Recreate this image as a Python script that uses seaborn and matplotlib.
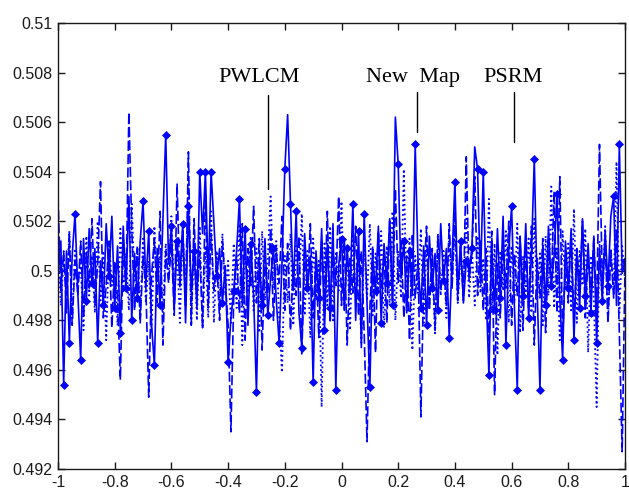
import numpy as np
import matplotlib
matplotlib.use("Agg")
import matplotlib.pyplot as plt
import seaborn as sns

# sample positions
x = np.linspace(-1, 1, 201)

# solid line with diamond markers (every other point marked)
solid = [
    0.5004, 0.5012, 0.4954, 0.5008, 0.4971, 0.5006, 0.5023, 0.4991, 0.4964, 0.5013,
    0.4988, 0.5017, 0.4995, 0.5009, 0.4971, 0.5004, 0.4986, 0.5019, 0.4998, 0.5022,
    0.4985, 0.5010, 0.4975, 0.5018, 0.4993, 0.5030, 0.4980, 0.5007, 0.4989, 0.5012,
    0.5028, 0.4994, 0.5016, 0.4978, 0.4962, 0.5009, 0.4986, 0.5020, 0.5055, 0.5003,
    0.5018, 0.4985, 0.5012, 0.4998, 0.5019, 0.4979, 0.5026, 0.4992, 0.5008, 0.4985,
    0.5040, 0.5015, 0.5040, 0.4996, 0.5040, 0.5019, 0.4998, 0.5009, 0.4987, 0.5002,
    0.4963, 0.4981, 0.4992, 0.5008, 0.5029, 0.4986, 0.5017, 0.4978, 0.5011, 0.4990,
    0.4951, 0.5004, 0.4986, 0.5013, 0.4982, 0.4997, 0.5009, 0.4988, 0.4971, 0.5003,
    0.5041, 0.5063, 0.5027, 0.4992, 0.5024, 0.4983, 0.4969, 0.5015, 0.4993, 0.5006,
    0.4955, 0.5008, 0.4989, 0.5017, 0.4976, 0.5011, 0.4985, 0.5019, 0.4952, 0.5002,
    0.5013, 0.4984, 0.5009, 0.4991, 0.5027, 0.4980, 0.5016, 0.4969, 0.5023, 0.4987,
    0.4953, 0.5006, 0.4992, 0.5018, 0.4979, 0.5011, 0.4995, 0.5021, 0.4986, 0.5062,
    0.5043, 0.4997, 0.5012, 0.4983, 0.5008, 0.4990, 0.5051, 0.5003, 0.4985, 0.5010,
    0.4978, 0.5014, 0.4993, 0.5007, 0.4984, 0.5019, 0.4996, 0.5009, 0.4973, 0.5005,
    0.5036, 0.4991, 0.5012, 0.4987, 0.5004, 0.5000, 0.5009, 0.5050, 0.5041, 0.4995,
    0.5040, 0.4992, 0.4958, 0.5011, 0.4984, 0.5017, 0.4989, 0.5022, 0.4970, 0.5008,
    0.5026, 0.4985, 0.4952, 0.5013, 0.4990, 0.5019, 0.4981, 0.5007, 0.5045, 0.4993,
    0.4952, 0.5010, 0.4986, 0.5018, 0.4994, 0.5006, 0.5031, 0.4989, 0.4964, 0.5012,
    0.4993, 0.5017, 0.4972, 0.5008, 0.4985, 0.5021, 0.4990, 0.5011, 0.4983, 0.5014,
    0.4971, 0.5009, 0.4988, 0.5016, 0.4994, 0.5022, 0.5030, 0.4986, 0.5051, 0.4999,
    0.5004,
]

# dashed line
dashed = [
    0.5030, 0.4992, 0.5008, 0.4983, 0.5015, 0.4978, 0.5004, 0.4990, 0.5012, 0.4981,
    0.5007, 0.4993, 0.5021, 0.4986, 0.5003, 0.5036, 0.4981, 0.4994, 0.5012, 0.4977,
    0.5004, 0.4989, 0.4956, 0.5011, 0.4992, 0.5064, 0.5018, 0.4984, 0.5009, 0.4979,
    0.5006, 0.4993, 0.4949, 0.4998, 0.5013, 0.4987, 0.5024, 0.4970, 0.5008, 0.4995,
    0.5011, 0.4982, 0.5035, 0.4993, 0.5016, 0.4986, 0.5048, 0.4978, 0.5021, 0.4990,
    0.5008, 0.4977, 0.5031, 0.4985, 0.5015, 0.4992, 0.5004, 0.4980, 0.5012, 0.4996,
    0.4978, 0.4935, 0.4990, 0.5006, 0.4983, 0.5019, 0.4972, 0.5009, 0.4994, 0.5026,
    0.4987, 0.5013, 0.4968, 0.5005, 0.4991, 0.5017, 0.4980, 0.5008, 0.4995, 0.5022,
    0.4984, 0.5011, 0.4976, 0.5003, 0.4990, 0.5014, 0.4966, 0.5007, 0.4992, 0.5019,
    0.4981, 0.5006, 0.4973, 0.5012, 0.4988, 0.5024, 0.4979, 0.5009, 0.4994, 0.5030,
    0.4986, 0.5013, 0.4970, 0.5005, 0.4991, 0.5018, 0.4982, 0.5008, 0.4975, 0.4931,
    0.4984, 0.5010, 0.4967, 0.5016, 0.4993, 0.5007, 0.4979, 0.5020, 0.4988, 0.5033,
    0.4995, 0.5012, 0.4981, 0.5006, 0.4972, 0.5015, 0.4989, 0.5004, 0.4941, 0.4997,
    0.5018, 0.4984, 0.5009, 0.4976, 0.5014, 0.4992, 0.5003, 0.4986, 0.5019, 0.4993,
    0.5024, 0.4988, 0.5010, 0.4988, 0.5046, 0.4996, 0.5007, 0.5038, 0.4990, 0.5012,
    0.4984, 0.5009, 0.4972, 0.5016, 0.4950, 0.5003, 0.4981, 0.5011, 0.4993, 0.5020,
    0.4978, 0.5007, 0.4990, 0.5014, 0.4976, 0.5010, 0.4985, 0.5018, 0.4970, 0.5005,
    0.4989, 0.5013, 0.4975, 0.5008, 0.4993, 0.5032, 0.4983, 0.5038, 0.4971, 0.5006,
    0.4987, 0.5015, 0.4978, 0.5009, 0.4994, 0.5020, 0.4981, 0.5007, 0.4990, 0.5013,
    0.4984, 0.5051, 0.4996, 0.5012, 0.4979, 0.5008, 0.4989, 0.5017, 0.4975, 0.4927,
    0.5002,
]

# dotted line
dotted = [
    0.5011, 0.4986, 0.5005, 0.4993, 0.5016, 0.4980, 0.5009, 0.4995, 0.5003, 0.4976,
    0.5014, 0.4990, 0.5006, 0.4983, 0.5020, 0.4988, 0.5008, 0.4972, 0.5012, 0.4994,
    0.5003, 0.4978, 0.5017, 0.4991, 0.5007, 0.4984, 0.5027, 0.4996, 0.5010, 0.4981,
    0.5013, 0.4987, 0.5004, 0.4975, 0.5018, 0.4992, 0.5006, 0.4983, 0.5011, 0.4997,
    0.5022, 0.4988, 0.5009, 0.4979, 0.5016, 0.4991, 0.5035, 0.4978, 0.5012, 0.4980,
    0.5018, 0.4977, 0.5010, 0.4981, 0.5024, 0.4979, 0.5008, 0.4986, 0.5015, 0.4990,
    0.5004, 0.4979, 0.5011, 0.4985, 0.5019, 0.4970, 0.5007, 0.4992, 0.5014, 0.4984,
    0.5009, 0.4975, 0.5016, 0.4988, 0.5005, 0.5030, 0.4993, 0.5012, 0.4981, 0.4959,
    0.5006, 0.4987, 0.5015, 0.4978, 0.5010, 0.4994, 0.5023, 0.4982, 0.5008, 0.4973,
    0.5013, 0.4989, 0.5004, 0.4945, 0.5011, 0.4986, 0.5018, 0.4980, 0.5007, 0.4992,
    0.5028, 0.4984, 0.5009, 0.4976, 0.5014, 0.4990, 0.5005, 0.4971, 0.5012, 0.4988,
    0.5019, 0.4982, 0.5007, 0.4993, 0.5016, 0.4977, 0.5010, 0.4986, 0.5024, 0.4980,
    0.5008, 0.4989, 0.5041, 0.4984, 0.5013, 0.4968, 0.5006, 0.4991, 0.5017, 0.4979,
    0.5011, 0.4986, 0.5004, 0.4974, 0.5015, 0.4990, 0.5008, 0.4981, 0.5012, 0.4995,
    0.5018, 0.4987, 0.5006, 0.4993, 0.5021, 0.4989, 0.5009, 0.4986, 0.5014, 0.4991,
    0.5005, 0.4980, 0.5029, 0.4983, 0.5011, 0.4966, 0.5008, 0.4992, 0.5016, 0.4979,
    0.5010, 0.4987, 0.5019, 0.4975, 0.5006, 0.4991, 0.5013, 0.4983, 0.5021, 0.4988,
    0.5007, 0.4978, 0.5014, 0.4990, 0.5034, 0.4985, 0.5009, 0.4972, 0.5016, 0.4993,
    0.5011, 0.4984, 0.5025, 0.4979, 0.5008, 0.4994, 0.5017, 0.4967, 0.5006, 0.4989,
    0.4945, 0.5012, 0.4986, 0.5018, 0.4980, 0.5009, 0.4992, 0.5044, 0.4983, 0.5010,
    0.4996,
]

# callout labels: text, text x, text y, pointer x, pointer top, pointer bottom
labels = ["PWLCM", "New  Map", "PSRM"]
label_x = [-0.29, 0.252, 0.605]
label_y = [0.5078, 0.5078, 0.5078]
ptr_x = [-0.259, 0.266, 0.608]
ptr_top = [0.5071, 0.5072, 0.5072]
ptr_bot = [0.5033, 0.5056, 0.5052]

xticks = [-1, -0.8, -0.6, -0.4, -0.2, 0, 0.2, 0.4, 0.6, 0.8, 1]
xticklabels = ["-1", "-0.8", "-0.6", "-0.4", "-0.2", "0", "0.2", "0.4", "0.6", "0.8", "1"]
yticks = [0.492, 0.494, 0.496, 0.498, 0.5, 0.502, 0.504, 0.506, 0.508, 0.51]
yticklabels = ["0.492", "0.494", "0.496", "0.498", "0.5", "0.502", "0.504", "0.506", "0.508", "0.51"]

sns.set_style("ticks")
plt.rcParams['font.family'] = ['Liberation Sans', 'DejaVu Sans']

fig = plt.figure(figsize=(6.29, 4.92), dpi=100)
ax = fig.add_axes([58 / 629, 1 - 469 / 492, 567 / 629, 446 / 492])

blue = "#0000ff"
sns.lineplot(x=x, y=dotted, ax=ax, color=blue, linestyle=":", linewidth=1.3,
             estimator=None, sort=False)
sns.lineplot(x=x, y=dashed, ax=ax, color=blue, linestyle="--", linewidth=1.2,
             estimator=None, sort=False)
ax.lines[-1].set_dashes([6, 2])
sns.lineplot(x=x, y=solid, ax=ax, color=blue, linestyle="-", linewidth=1.2,
             marker="D", markersize=3.8, markevery=2, markeredgewidth=0.5,
             markerfacecolor=blue, markeredgecolor=blue,
             estimator=None, sort=False)

for t, tx, ty, px, p0, p1 in zip(labels, label_x, label_y, ptr_x, ptr_top, ptr_bot):
    ax.text(tx, ty, t, ha="center", va="center", fontsize=16,
            family="Liberation Serif", color="black")
    ax.plot([px, px], [p0, p1], color="black", linewidth=1.0)

ax.set_xlim(-1, 1)
ax.set_ylim(0.492, 0.51)
ax.set_xticks(xticks)
ax.set_xticklabels(xticklabels, fontsize=11.5)
ax.set_yticks(yticks)
ax.set_yticklabels(yticklabels, fontsize=11.5)
ax.tick_params(direction="in", length=5, top=True, right=True, width=1,
               colors="#1a1a1a", pad=4)
for s in ax.spines.values():
    s.set_visible(True)
    s.set_color("#1a1a1a")
    s.set_linewidth(1.0)
ax.set_xlabel("")
ax.set_ylabel("")

fig.savefig("out.png", dpi=100, facecolor="white")
